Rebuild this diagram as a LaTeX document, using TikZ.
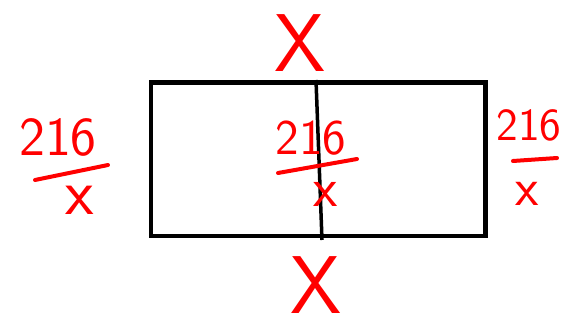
\documentclass[tikz,border=0pt]{standalone}
\usepackage{tikz}
\usetikzlibrary{positioning}

\begin{document}
\begin{tikzpicture}[
        x=1pt, y=-1pt,
        % Stile delle scritte rosse a mano
        hand/.style={text=red, inner sep=0pt, font=\sffamily},
        side/.style={hand, font=\fontsize{82}{82}\selectfont\sffamily},
        bar/.style={red, line width=4pt, line cap=round},
        edge/.style={draw, line width=4.5pt}
    ]
        \useasboundingbox (0,0) rectangle (574,326);

        % Rettangolo e linea di mezzo
        \coordinate (tl) at (151,82.5);
        \coordinate (br) at (485.5,236);
        \coordinate (mtop) at (316,80);
        \coordinate (mbot) at (322,240);
        \draw[edge] (tl) rectangle (br);
        \draw[line width=3.5pt] (mtop) -- (mbot);

        % Lati
        \node[side] (top) at (300,43) {X};
        \node[side] (bot) at (316,285) {X};

        % Frazione a sinistra
        \node[hand, font=\fontsize{55}{55}\selectfont\sffamily] (lnum) at (58,137) {216};
        \draw[bar] (35,180) -- (108,165);
        \node[hand, font=\fontsize{66}{66}\selectfont\sffamily] (lden) at (80,200) {x};

        % Frazione in mezzo
        \node[hand, font=\fontsize{50}{50}\selectfont\sffamily] (mnum) at (311,138) {216};
        \draw[bar] (278,173) -- (357,159);
        \node[hand, font=\fontsize{56}{56}\selectfont\sffamily] (mden) at (326,194) {x};

        % Frazione a destra
        \node[hand, font=\fontsize{46}{46}\selectfont\sffamily] (rnum) at (529,125) {216};
        \draw[bar] (513,161) -- (557,158);
        \node[hand, font=\fontsize{54}{54}\selectfont\sffamily] (rden) at (527,194) {x};

    \end{tikzpicture}
\end{document}
